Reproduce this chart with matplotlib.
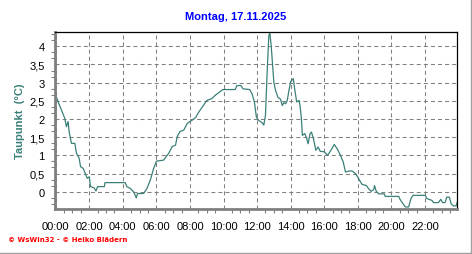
import matplotlib

matplotlib.use("Agg")
import matplotlib.pyplot as plt
from matplotlib.lines import Line2D
from matplotlib.ticker import FixedLocator, FuncFormatter, MultipleLocator

plt.rcParams["font.family"] = ["Liberation Sans", "DejaVu Sans"]
plt.rcParams["lines.scale_dashes"] = False

TITLE = "Montag, 17.11.2025"
YLABEL = "Taupunkt  (°C)"
FOOTER = "© WsWin32 - © Heiko Blädern"

# dew point over the day: hours since midnight, value in °C
hours = [
    0.0, 0.14, 0.34, 0.54, 0.64, 0.74, 0.8, 0.94, 1.14, 1.24, 1.4, 1.48,
    1.64, 1.8, 1.88, 2.0, 2.08, 2.28, 2.4, 2.5, 2.9, 2.94, 4.14, 4.24,
    4.44, 4.64, 4.8, 4.88, 5.24, 5.44, 5.64, 5.84, 6.0, 6.44, 6.54, 6.74,
    6.94, 7.14, 7.24, 7.4, 7.64, 7.84, 8.14, 8.34, 8.54, 8.8, 9.0, 9.3,
    9.5, 9.7, 9.96, 10.7, 10.8, 11.04, 11.16, 11.56, 11.7, 11.84, 11.96,
    12.1, 12.3, 12.4, 12.5, 12.6, 12.7, 12.76, 12.84, 12.9, 13.0, 13.1,
    13.24, 13.4, 13.5, 13.6, 13.7, 13.8, 13.9, 14.0, 14.16, 14.24, 14.36,
    14.5, 14.56, 14.64, 14.7, 14.84, 14.96, 15.04, 15.16, 15.24, 15.36,
    15.5, 15.64, 15.76, 16.0, 16.2, 16.4, 16.6, 16.8, 16.97, 17.13, 17.27,
    17.47, 17.66, 17.86, 18.0, 18.16, 18.26, 18.51, 18.65, 18.8, 18.95,
    19.0, 19.1, 19.25, 19.58, 19.64, 20.44, 20.53, 20.83, 21.03, 21.17,
    21.29, 22.02, 22.12, 22.42, 22.51, 22.8, 22.95, 23.05, 23.2, 23.3,
    23.46, 23.56, 23.7, 23.86, 23.94,
]
dewpoint = [
    2.66, 2.48, 2.25, 2.02, 1.79, 1.93, 1.65, 1.33, 1.33, 1.06, 0.92, 0.69,
    0.64, 0.46, 0.37, 0.41, 0.14, 0.11, 0.02, 0.14, 0.14, 0.25, 0.25, 0.14,
    0.09, 0.0, -0.17, -0.05, -0.05, 0.09, 0.32, 0.64, 0.84, 0.87, 0.94, 1.06,
    1.24, 1.28, 1.51, 1.65, 1.70, 1.88, 1.97, 2.04, 2.20, 2.37, 2.51, 2.56,
    2.65, 2.72, 2.81, 2.81, 2.92, 2.92, 2.83, 2.81, 2.69, 2.47, 2.05,
    1.96, 1.90, 1.83, 2.10, 3.29, 4.29, 4.37, 4.02, 3.65, 3.01, 2.79,
    2.60, 2.54, 2.37, 2.45, 2.42, 2.51, 2.79, 3.03, 3.11, 2.83, 2.47,
    2.51, 2.37, 2.01, 1.55, 1.60, 1.46, 1.32, 1.60, 1.64, 1.46,
    1.14, 1.23, 1.11, 1.10, 1.0, 1.14, 1.30, 1.16, 1.0, 0.82, 0.54,
    0.57, 0.57, 0.50, 0.40, 0.27, 0.20, 0.17, 0.08, 0.01, 0.06,
    0.17, 0.01, -0.06, -0.06, -0.13, -0.13, -0.22, -0.42, -0.42, -0.19,
    -0.10, -0.10, -0.19, -0.24, -0.30, -0.30, -0.21, -0.30, -0.30, -0.15,
    -0.15, -0.33, -0.39, -0.39, -0.27,
]

x_ticks = list(range(0, 24, 2))
x_labels = [f"{h:02d}:00" for h in x_ticks]
y_ticks = [0, 0.5, 1, 1.5, 2, 2.5, 3, 3.5, 4]

LINE = "#3a8079"
GRID = "#808080"

W, H = 472, 255
fig = plt.figure(figsize=(W / 100, H / 100), dpi=100)
ax = fig.add_axes([54.5 / W, (H - 210) / H, (457.3 - 54.5) / W, (210 - 33.3) / H])

ax.plot(hours, dewpoint, color=LINE, lw=0.9)
ax.set_xlim(-0.07, 23.93)
ax.set_ylim(-0.476, 4.385)

ax.xaxis.set_major_locator(FixedLocator(x_ticks))
ax.set_xticklabels(x_labels)
ax.xaxis.set_minor_locator(MultipleLocator(0.5))
ax.yaxis.set_major_locator(FixedLocator(y_ticks))
ax.yaxis.set_major_formatter(
    FuncFormatter(lambda v, _: f"{v:g}".replace(".", ",")))
ax.yaxis.set_minor_locator(MultipleLocator(0.5 / 3))

ax.tick_params(which="both", direction="out", length=3, width=0.8,
               color=GRID, labelsize=8, labelcolor="black")
ax.tick_params(axis="x", which="major", length=0, pad=9)
ax.tick_params(axis="y", which="major", length=0, pad=7)

ax.grid(True, which="major", color=GRID, lw=0.75, ls=(0, (2.9, 2.2)))

for side in ("left", "bottom"):
    ax.spines[side].set_color(GRID)
    ax.spines[side].set_linewidth(2.0)
for side in ("top", "right"):
    ax.spines[side].set_color("black")
    ax.spines[side].set_linewidth(0.9)

fig.text(20 / W, (H - 121.5) / H, YLABEL, rotation=90, ha="center",
         va="center", color=LINE, fontsize=8, fontweight="bold")

fig.text(0.5, (H - 17) / H, TITLE, ha="center", va="center",
         color="#0000ff", fontsize=8, fontweight="bold")
fig.text(8 / W, (H - 240) / H, FOOTER, ha="left", va="center",
         color="#ff0000", fontsize=5, fontweight="bold",
         family=["DejaVu Sans"])

# grey shadow edges on the right and bottom of the picture
fig.add_artist(Line2D([1 - 1.5 / W, 1 - 1.5 / W], [0, 1],
                      transform=fig.transFigure, color="#a0a0a0", lw=1))
fig.add_artist(Line2D([0, 1], [1.5 / H, 1.5 / H],
                      transform=fig.transFigure, color="#a0a0a0", lw=1))

fig.savefig("out.png", dpi=100)
